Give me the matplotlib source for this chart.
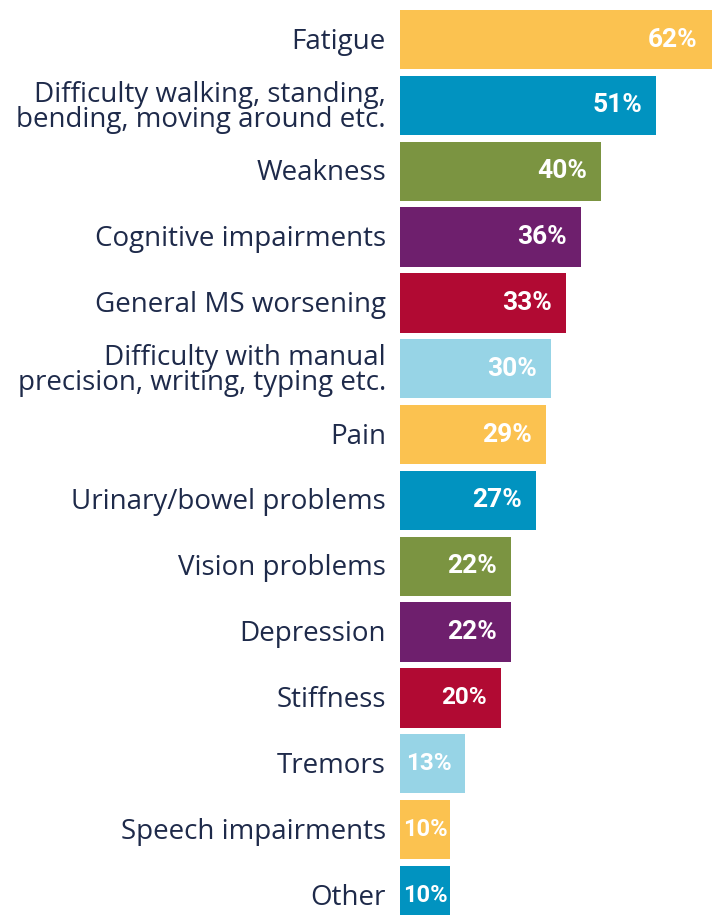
import matplotlib.pyplot as plt
import numpy as np

categories = ['Fatigue',
              'Difficulty walking, standing,\nbending, moving around etc.',
              'Weakness',
              'Cognitive impairments',
              'General MS worsening',
              'Difficulty with manual\nprecision, writing, typing etc.',
              'Pain',
              'Urinary/bowel problems',
              'Vision problems',
              'Depression',
              'Stiffness',
              'Tremors',
              'Speech impairments',
              'Other']
values = [62, 51, 40, 36, 33, 30, 29, 27, 22, 22, 20, 13, 10, 10]
colors = ['#FBC250', '#0193C0', '#7B9441', '#6E1F6D', '#B10A33', '#97D4E6',
          '#FBC250', '#0193C0', '#7B9441', '#6E1F6D', '#B10A33', '#97D4E6',
          '#FBC250', '#0193C0']

label_color = '#1E2A4A'

fig = plt.figure(figsize=(7.18, 9.15), dpi=100)
ax = fig.add_axes([400 / 718, 0, 318 / 718, 1])

y = np.arange(len(categories))
ax.barh(y, values, height=0.9, color=colors)
ax.set_xlim(0, 63.26)
ax.set_ylim(13.296, -0.6)
ax.axis('off')

for i, (cat, v) in enumerate(zip(categories, values)):
    ax.annotate(cat, xy=(0, i), xytext=(-14, -2), textcoords='offset pixels',
                ha='right', va='center', fontsize=20, color=label_color,
                family='Open Sans', linespacing=0.88)
    # short bars get a smaller label so it fits inside
    if v > 20:
        size, pad = 19, -14
    elif v > 10:
        size, pad = 17.5, -14
    else:
        size, pad = 17, -3
    ax.annotate(f'{v}%', xy=(v, i), xytext=(pad, 0),
                textcoords='offset pixels', ha='right', va='center',
                fontsize=size, fontweight='bold', color='white',
                family='Roboto')

fig.savefig('out.png', dpi=100)
